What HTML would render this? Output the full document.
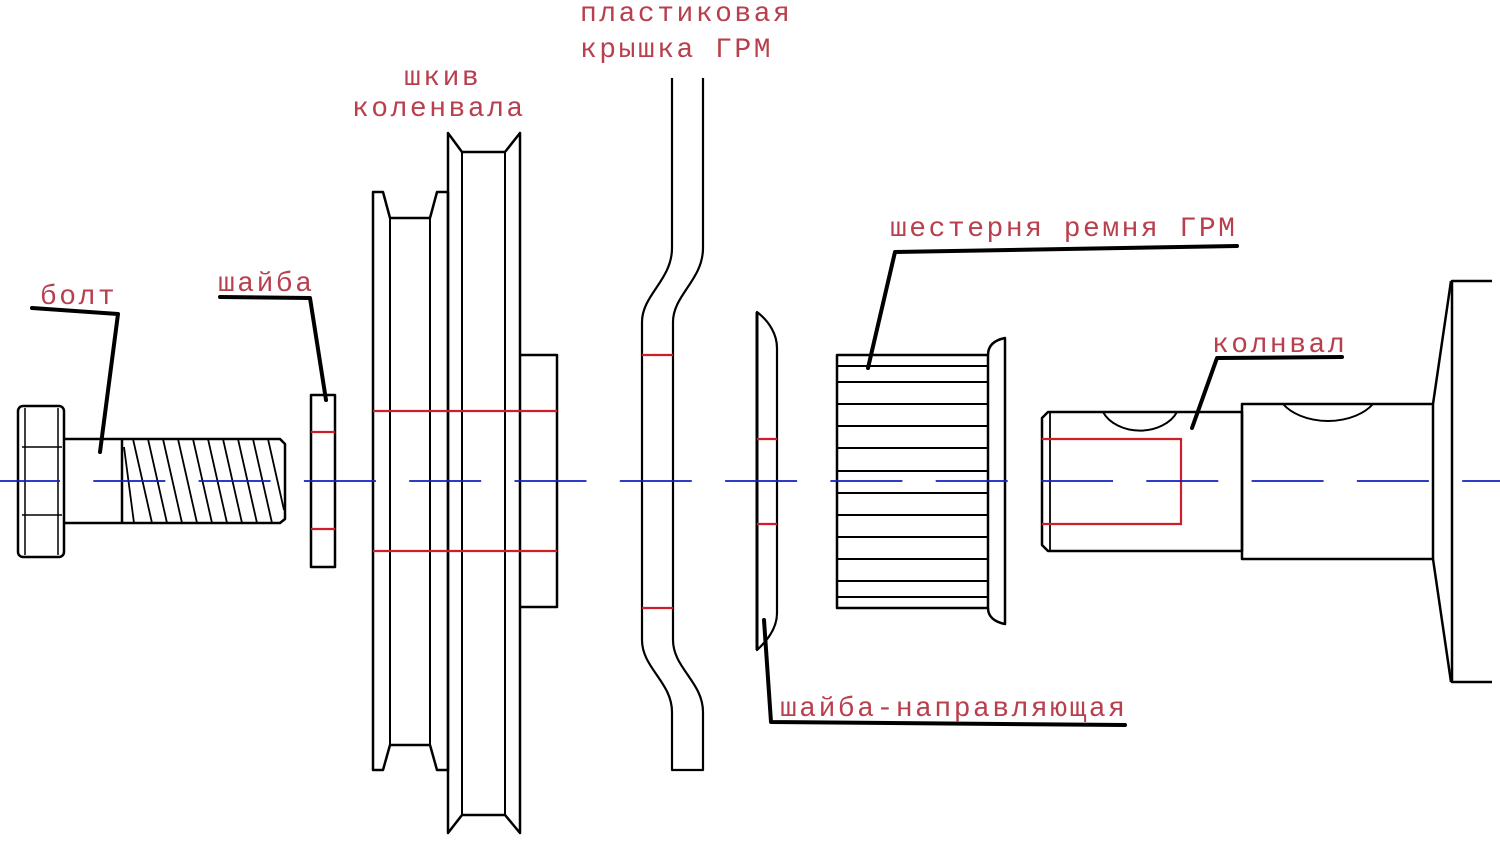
<!DOCTYPE html>
<html><head><meta charset="utf-8"><style>
html,body{margin:0;padding:0;background:#fff;}
svg{display:block;}
text{font-family:"Liberation Mono","DejaVu Sans Mono",monospace;font-size:28px;fill:#b8404e;letter-spacing:2.5px;}
</style></head><body>
<svg width="1500" height="848" viewBox="0 0 1500 848" xmlns="http://www.w3.org/2000/svg">
<g fill="none" stroke="#000" stroke-width="2.5" stroke-linejoin="round">
<rect x="18" y="406" width="46" height="151" rx="5"/>
<line x1="25" y1="408" x2="25" y2="555" stroke-width="1.5"/>
<line x1="58" y1="408" x2="58" y2="555" stroke-width="1.5"/>
<line x1="22" y1="447" x2="62" y2="447" stroke-width="1.5"/>
<line x1="22" y1="515" x2="62" y2="515" stroke-width="1.5"/>
<path d="M64 439 H280 L285 444 V519 L280 523 H64"/>
<line x1="122" y1="439" x2="122" y2="523"/>
<g stroke-width="1.8">
<line x1="124" y1="447" x2="134" y2="523"/>
<line x1="133" y1="439" x2="152" y2="523"/>
<line x1="148" y1="439" x2="167" y2="523"/>
<line x1="163" y1="439" x2="182" y2="523"/>
<line x1="178" y1="439" x2="197" y2="523"/>
<line x1="193" y1="439" x2="212" y2="523"/>
<line x1="208" y1="439" x2="227" y2="523"/>
<line x1="223" y1="439" x2="242" y2="523"/>
<line x1="238" y1="439" x2="257" y2="523"/>
<line x1="253" y1="439" x2="272" y2="523"/>
<line x1="268" y1="439" x2="284" y2="510"/>
</g>
<rect x="311" y="395" width="24" height="172"/>
<path d="M373 192 H383 L390 218 H430 L437 192 H448 V770 H437 L430 745 H390 L383 770 H373 Z"/>
<line x1="390" y1="218" x2="390" y2="745" stroke-width="2"/>
<line x1="430" y1="218" x2="430" y2="745" stroke-width="2"/>
<path d="M448 133 L462 152 H505 L520 133 V833 L505 815 H462 L448 833 Z"/>
<line x1="462" y1="152" x2="462" y2="815" stroke-width="2"/>
<line x1="505" y1="152" x2="505" y2="815" stroke-width="2"/>
<path d="M520 355 H557 V607 H520"/>
<path d="M672 78 V248 C672 280 642 295 642 322 V640 C642 668 672 682 672 712 V770 H703 V712 C703 682 673 668 673 640 V322 C673 295 703 280 703 248 V78" stroke-width="2.2"/>
<path d="M757 312 C770 322 777 335 777 348 V613 C777 628 768 640 757 650 Z" stroke-width="2.2"/>
<line x1="757" y1="312" x2="757" y2="650" stroke-width="3"/>
<rect x="837" y="355" width="151" height="253"/>
<g stroke-width="2">
<line x1="837" y1="366" x2="988" y2="366"/><line x1="837" y1="382" x2="988" y2="382"/>
<line x1="837" y1="404" x2="988" y2="404"/><line x1="837" y1="426" x2="988" y2="426"/>
<line x1="837" y1="448" x2="988" y2="448"/><line x1="837" y1="471" x2="988" y2="471"/>
<line x1="837" y1="493" x2="988" y2="493"/><line x1="837" y1="515" x2="988" y2="515"/>
<line x1="837" y1="537" x2="988" y2="537"/><line x1="837" y1="559" x2="988" y2="559"/>
<line x1="837" y1="581" x2="988" y2="581"/><line x1="837" y1="597" x2="988" y2="597"/>
</g>
<path d="M988 355 C988 345 995 340 1005 338 V624 C995 622 988 617 988 608"/>
<path d="M1048 412 H1242 V551 H1048 L1042 545 V418 Z"/>
<line x1="1050" y1="413" x2="1050" y2="550" stroke-width="1.8"/>
<path d="M1103 412 A40 30 0 0 0 1177 412" stroke-width="2"/>
<rect x="1242" y="404" width="191" height="155"/>
<path d="M1283 404 A52 34 0 0 0 1373 404" stroke-width="2"/>
<path d="M1433 404 L1451 281 M1433 559 L1451 682"/>
<path d="M1492 281 H1452 V682 H1492"/>
</g>
<g stroke="#cc1f2a" stroke-width="2.2" fill="none">
<line x1="311" y1="432" x2="335" y2="432"/><line x1="311" y1="529" x2="335" y2="529"/>
<line x1="373" y1="411" x2="557" y2="411"/><line x1="373" y1="551" x2="557" y2="551"/>
<line x1="642" y1="355" x2="673" y2="355"/><line x1="642" y1="608" x2="673" y2="608"/>
<line x1="757" y1="439" x2="777" y2="439"/><line x1="757" y1="524" x2="777" y2="524"/>
<path d="M1042 439 H1181 V524 H1042"/>
</g>
<line x1="-12" y1="481" x2="1500" y2="481" stroke="#1020c0" stroke-width="1.8" stroke-dasharray="72 33.3"/>
<g stroke="#000" stroke-width="4" fill="none" stroke-linecap="round" stroke-linejoin="round">
<path d="M32 308 L118 314 L100 452"/>
<path d="M220 297 L310 298 L326 400"/>
<path d="M1237 246 L895 252 L868 368"/>
<path d="M1342 357 L1217 358 L1192 428"/>
<path d="M764 620 L771 722 L1125 725"/>
</g>
<text x="40" y="304">болт</text>
<text x="218" y="291">шайба</text>
<text x="404" y="85">шкив</text>
<text x="352" y="116">коленвала</text>
<text x="580" y="21">пластиковая</text>
<text x="580" y="57">крышка ГРМ</text>
<text x="890" y="236">шестерня ремня ГРМ</text>
<text x="1212" y="352">колнвал</text>
<text x="780" y="716">шайба-направляющая</text>
</svg>
</body></html>
